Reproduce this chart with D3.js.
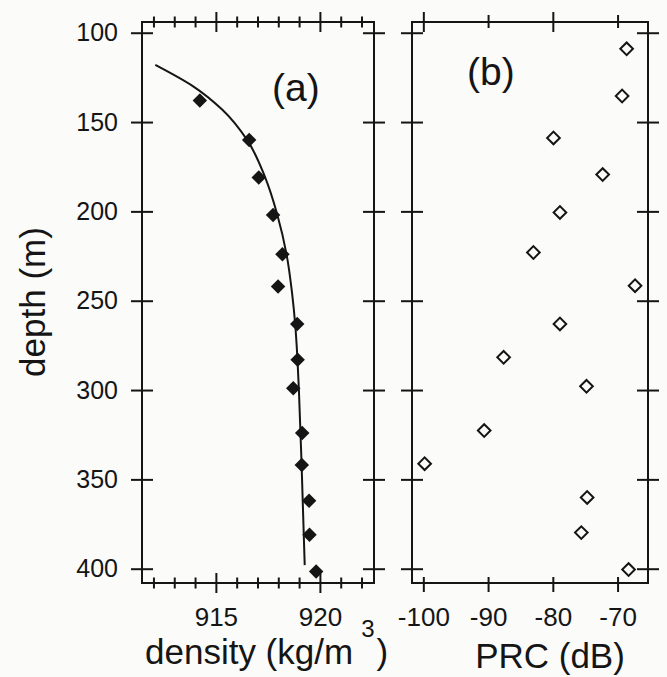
<!DOCTYPE html>
<html>
<head>
<meta charset="utf-8">
<script src="https://cdnjs.cloudflare.com/ajax/libs/d3/7.8.5/d3.min.js"></script>
<style>
  body { margin: 0; background: #fbfbfa; }
  svg { display: block; font-family: "Liberation Sans", Arial, Helvetica, sans-serif; }
</style>
</head>
<body>
<svg width="667" height="677"></svg>
<script>
// (a) measured density, filled diamonds
const densDepth = [138, 160, 181, 202, 224, 242, 263, 283, 299, 324, 342, 362, 381, 401.5]
const density = [914.23, 916.6, 917.06, 917.75, 918.2, 917.99, 918.91, 918.93, 918.72, 919.15, 919.13, 919.48, 919.5, 919.82]
// (a) fitted curve
const fitDepth = [118, 130, 143, 160, 180.4, 201.7, 224.2, 245.5, 264.3, 282.4, 299.8, 341.7, 398]
const fitDensity = [912.09, 913.91, 915.3, 916.5, 917.35, 917.95, 918.4, 918.66, 918.82, 918.92, 918.99, 919.12, 919.27]
// (b) PRC, open diamonds
const prcDepth = [109, 135.4, 158.9, 179.4, 200.6, 223, 241.6, 263, 281.7, 297.9, 322.7, 341.2, 360.1, 379.8, 400.5]
const prc = [-68.6, -69.3, -79.9, -72.3, -78.9, -83.0, -67.3, -78.9, -87.6, -74.8, -90.6, -99.8, -74.7, -75.6, -68.3]

const depthTicks = [100, 150, 200, 250, 300, 350, 400]
const densityTicks = d3.range(912, 923)
const densityLabels = [915, 920]
const prcTicks = [-100, -90, -80, -70]
const prcMajor = [-100, -80]

const ink = '#151515'
const svg = d3.select('svg')

const y = d3.scaleLinear().domain([94, 408]).range([22, 583])
const xa = d3.scaleLinear().domain([911.45, 922.6]).range([142, 374])
const xb = d3.scaleLinear().domain([-101.75, -65.3]).range([412, 648])

const cleanAxis = g => {
    g.attr('font-size', null).attr('font-family', null)
    g.select('.domain').remove()
    g.selectAll('.tick line').attr('stroke', ink).attr('stroke-width', 2)
    g.selectAll('.tick text').attr('fill', ink).attr('font-size', 25)
}

const drawDepthAxes = (x, labels) => {
    const [x0, x1] = x.range()
    const left = svg.append('g').attr('transform', `translate(${x0},0)`)
        .call(d3.axisLeft(y).tickValues(depthTicks).tickSize(11).tickPadding(13)
            .tickFormat(labels ? d3.format('d') : ''))
        .call(cleanAxis)
    left.selectAll('.tick line').attr('x1', -11).attr('x2', 11)
    const right = svg.append('g').attr('transform', `translate(${x1},0)`)
        .call(d3.axisRight(y).tickValues(depthTicks).tickSize(11).tickFormat(''))
        .call(cleanAxis)
    right.selectAll('.tick line').attr('x1', -11).attr('x2', 11)
}

const drawFrame = x => {
    const [x0, x1] = x.range()
    const [y0, y1] = y.range()
    svg.append('rect').attr('x', x0).attr('y', y0).attr('width', x1 - x0).attr('height', y1 - y0)
        .attr('fill', 'none').attr('stroke', ink).attr('stroke-width', 2)
}

// panel (a)
drawFrame(xa)
drawDepthAxes(xa, true)

const bottomA = svg.append('g').attr('transform', `translate(0,${y.range()[1]})`)
    .call(d3.axisBottom(xa).tickValues(densityTicks).tickSize(10)
        .tickFormat(d => densityLabels.includes(d) ? d : ''))
    .call(cleanAxis)
bottomA.selectAll('.tick line')
    .attr('y1', d => densityLabels.includes(d) ? -10 : -5.5)
    .attr('y2', d => densityLabels.includes(d) ? 10 : 5.5)
bottomA.selectAll('.tick text').attr('y', 25).attr('font-size', 26)

const topA = svg.append('g').attr('transform', `translate(0,${y.range()[0]})`)
    .call(d3.axisTop(xa).tickValues(densityTicks).tickFormat(''))
    .call(cleanAxis)
topA.selectAll('.tick line')
    .attr('y1', d => densityLabels.includes(d) ? -10 : -5.5)
    .attr('y2', d => densityLabels.includes(d) ? 10 : 5.5)

const fit = d3.line().x(d => xa(d[1])).y(d => y(d[0])).curve(d3.curveMonotoneY)
svg.append('path').datum(d3.zip(fitDepth, fitDensity)).attr('d', fit)
    .attr('fill', 'none').attr('stroke', ink).attr('stroke-width', 2)

svg.append('g').selectAll('path').data(d3.zip(densDepth, density)).enter().append('path')
    .attr('d', d3.symbol(d3.symbolSquare, 105))
    .attr('transform', d => `translate(${xa(d[1])},${y(d[0])}) rotate(45)`)
    .attr('fill', ink)

// panel (b)
drawFrame(xb)
drawDepthAxes(xb, false)

const bottomB = svg.append('g').attr('transform', `translate(0,${y.range()[1]})`)
    .call(d3.axisBottom(xb).tickValues(prcTicks).tickSize(9).tickFormat(d => String(d)))
    .call(cleanAxis)
bottomB.selectAll('.tick line').attr('y1', -6).attr('y2', 9)
bottomB.selectAll('.tick text').attr('y', 25).attr('font-size', 26)

const topB = svg.append('g').attr('transform', `translate(0,${y.range()[0]})`)
    .call(d3.axisTop(xb).tickValues(prcTicks).tickFormat(''))
    .call(cleanAxis)
topB.selectAll('.tick line')
    .attr('y1', d => prcMajor.includes(d) ? -10 : -7)
    .attr('y2', d => prcMajor.includes(d) ? 10 : 6)

svg.append('g').selectAll('path').data(d3.zip(prcDepth, prc)).enter().append('path')
    .attr('d', d3.symbol(d3.symbolSquare, 80))
    .attr('transform', d => `translate(${xb(d[1])},${y(d[0])}) rotate(45)`)
    .attr('fill', 'none').attr('stroke', ink).attr('stroke-width', 2)

// labels
svg.append('text').attr('x', 272).attr('y', 101).attr('font-size', 39).attr('fill', ink).text('(a)')
svg.append('text').attr('x', 467).attr('y', 85).attr('font-size', 39).attr('fill', ink).text('(b)')

svg.append('text').attr('transform', 'translate(45,302) rotate(-90)').attr('text-anchor', 'middle')
    .attr('font-size', 35).attr('fill', ink).text('depth (m)')

const densTitle = svg.append('text').attr('x', 145).attr('y', 664).attr('font-size', 35).attr('fill', ink)
densTitle.append('tspan').text('density (kg/m')
densTitle.append('tspan').attr('dx', 8).attr('dy', -27).attr('font-size', 24).text('3')
densTitle.append('tspan').attr('dx', 2).attr('dy', 27).text(')')

svg.append('text').attr('x', 550).attr('y', 668).attr('text-anchor', 'middle')
    .attr('font-size', 35).attr('fill', ink).text('PRC (dB)')
</script>
</body>
</html>
